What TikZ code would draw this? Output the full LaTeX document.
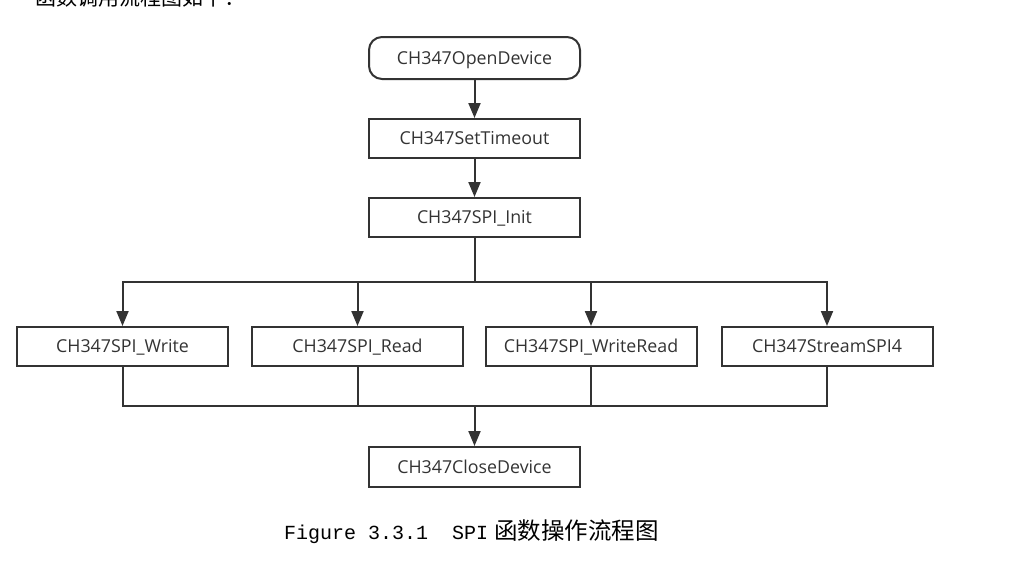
\documentclass[tikz,border=0pt]{standalone}
\usepackage{fontspec}
\setmainfont{Open Sans}
\newfontfamily\cjk{Noto Sans CJK SC}
\newfontfamily\monolat{Liberation Mono}
\usetikzlibrary{arrows.meta}
\definecolor{ink}{HTML}{333333}
\tikzset{
  box/.style={draw=ink, line width=2pt, minimum width=211pt, minimum height=39pt, inner sep=0pt,
    text=ink, font=\fontsize{17.8}{19}\selectfont, text height=12.3pt, text depth=0pt},
  rbox/.style={box, rounded corners=13pt, minimum height=42pt},
  conn/.style={draw=ink, line width=2pt},
  arr/.style={conn, -{Triangle[length=15pt,width=12pt]}}
}
\begin{document}
\begin{tikzpicture}[x=1pt,y=-1pt]
\useasboundingbox (0,0) rectangle (1011,568);
\clip (0,0) rectangle (1011,568);
\node[anchor=base west, inner sep=0pt, font=\cjk\fontsize{21}{21}\selectfont] (intro) at (35,5) {函数调用流程图如下：};
\node[rbox] (open) at (474.5,58) {CH347OpenDevice};
\node[box] (timeout) at (474.5,138.5) {CH347SetTimeout};
\node[box] (init) at (474.5,217.5) {CH347SPI\_Init};
\node[box] (write) at (122.5,346.5) {CH347SPI\_Write};
\node[box] (read) at (357.5,346.5) {CH347SPI\_Read};
\node[box] (wr) at (591,346.5) {CH347SPI\_WriteRead};
\node[box] (stream) at (827,346.5) {CH347StreamSPI4};
\node[box, minimum height=40pt] (close) at (474.5,467) {CH347CloseDevice};
\coordinate (split) at (474.5,282);
\coordinate (join) at (474.5,406);
\draw[arr] (open) -- (timeout);
\draw[arr] (timeout) -- (init);
\draw[conn] (init.south) -- (split);
\draw[arr] (split) -| (write.north);
\draw[arr] (split) -| (read.north);
\draw[arr] (split) -| (wr.north);
\draw[arr] (split) -| (stream.north);
\draw[conn] (write.south) |- (join);
\draw[conn] (read.south) |- (join);
\draw[conn] (wr.south) |- (join);
\draw[conn] (stream.south) |- (join);
\draw[arr] (join) -- (close.north);
\node[anchor=west, inner sep=0pt] (cap) at (284,532)
  {{\monolat\fontsize{20}{20}\selectfont Figure 3.3.1\hspace{12pt} SPI\hspace{6pt}}{\cjk\fontsize{23.5}{24}\selectfont 函数操作流程图}};
\end{tikzpicture}
\end{document}
